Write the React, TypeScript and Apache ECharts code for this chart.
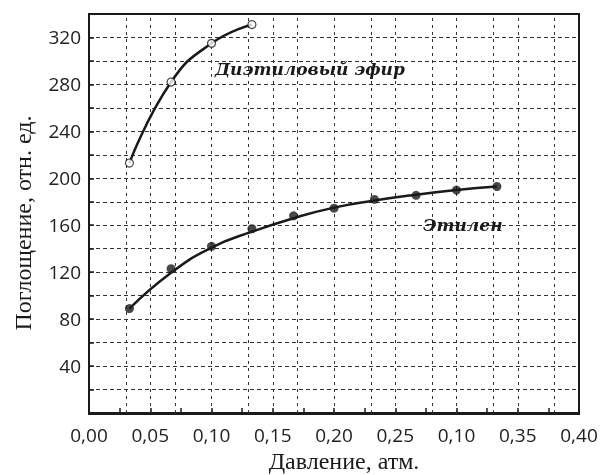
import React, { useEffect, useRef } from "react";
import * as echarts from "echarts";

// Data
const etherX = [0.033, 0.067, 0.1, 0.133];
const etherY = [213, 282, 315, 331];
const ethyleneX = [0.033, 0.067, 0.1, 0.133, 0.167, 0.2, 0.233, 0.267, 0.3, 0.333];
const ethyleneY = [89, 123, 142, 157, 168, 174.5, 182, 185.5, 190, 193];
const ethyleneFitY = [89, 119.5, 141, 154.5, 166, 175, 181, 186, 190, 193];
const xTickLabels = ["0,00", "0,05", "0,10", "0,15", "0,20", "0,25", "0,10", "0,35", "0,40"];
const xGridValues = [0.025, 0.05, 0.075, 0.1, 0.125, 0.15, 0.175, 0.2, 0.225, 0.25, 0.275, 0.3, 0.325, 0.35, 0.375];
const yTickLabels = ["40", "80", "120", "160", "200", "240", "280", "320"];
const etherName = "Диэтиловый эфир";
const ethyleneName = "Этилен";
const xTitle = "Давление, атм.";
const yTitle = "Поглощение, отн. ед.";

const zip = (xs: number[], ys: number[]) => xs.map((x, i) => [x, ys[i]]);

export default function App() {
  const ref = useRef<HTMLDivElement>(null);
  useEffect(() => {
    if (!ref.current) return;
    const chart = echarts.init(ref.current, undefined, { renderer: "svg" });
    const ink = "#1a1a1a";
    const serif = "'DejaVu Serif', 'Liberation Serif', serif";
    const hDash = { color: "#333333", width: 1, type: [4, 3] };
    chart.setOption({
      animation: false,
      grid: { left: 89, right: 22, top: 14, bottom: 62 },
      xAxis: {
        type: "value",
        min: 0,
        max: 0.4,
        interval: 0.025,
        axisLine: { show: true, onZero: false, lineStyle: { color: ink, width: 2 } },
        axisTick: { show: true, inside: true, length: 5, lineStyle: { color: ink, width: 1.5 } },
        splitLine: { show: false },
        axisLabel: {
          margin: 12,
          fontFamily: "Open Sans",
          fontSize: 19,
          color: "#222",
          formatter: (v: number) => {
            const k = Math.round(v * 40);
            if (k % 2 !== 0) return "";
            return xTickLabels[k / 2] ?? "";
          },
        },
      },
      yAxis: {
        type: "value",
        min: 0,
        max: 340,
        interval: 20,
        axisLine: { show: true, onZero: false, lineStyle: { color: ink, width: 2 } },
        axisTick: { show: true, inside: true, length: 5, lineStyle: { color: ink, width: 1.5 } },
        splitLine: { show: true, lineStyle: hDash },
        axisLabel: {
          margin: 8,
          fontFamily: "Open Sans",
          fontSize: 19,
          color: "#222",
          formatter: (v: number) => {
            const s = String(Math.round(v));
            return yTickLabels.includes(s) ? s : "";
          },
        },
      },
      graphic: [
        {
          type: "rect",
          shape: { x: 89, y: 14, width: 490, height: 400 },
          style: { fill: "none", stroke: ink, lineWidth: 2 },
          silent: true,
          z: 5,
        },
        {
          type: "text",
          x: 215,
          y: 69,
          z: 10,
          style: {
            text: etherName,
            fontFamily: serif,
            fontSize: 17,
            fontWeight: "bold",
            fontStyle: "italic",
            fill: ink,
            verticalAlign: "middle",
            align: "left",
          },
        },
        {
          type: "text",
          x: 423,
          y: 225,
          z: 10,
          style: {
            text: ethyleneName,
            fontFamily: serif,
            fontSize: 17,
            fontWeight: "bold",
            fontStyle: "italic",
            fill: ink,
            verticalAlign: "middle",
            align: "left",
          },
        },
        {
          type: "text",
          x: 344,
          y: 461,
          style: {
            text: xTitle,
            fontFamily: "Liberation Serif",
            fontSize: 24,
            fill: ink,
            align: "center",
            verticalAlign: "middle",
          },
        },
        {
          type: "text",
          x: 23,
          y: 223,
          rotation: Math.PI / 2,
          style: {
            text: yTitle,
            fontFamily: "Liberation Serif",
            fontSize: 24,
            fill: ink,
            align: "center",
            verticalAlign: "middle",
          },
        },
      ],
      series: [
        {
          type: "line",
          data: zip(etherX, etherY),
          smooth: 0.5,
          symbol: "none",
          lineStyle: { color: ink, width: 2.5 },
          z: 3,
        },
        {
          type: "line",
          data: zip(ethyleneX, ethyleneFitY),
          smooth: 0.5,
          symbol: "none",
          lineStyle: { color: ink, width: 2.5 },
          z: 3,
          markLine: {
            silent: true,
            symbol: ["none", "none"],
            label: { show: false },
            lineStyle: { color: "#333333", width: 1, type: [3, 4] },
            z: 1,
            data: xGridValues.map((v) => ({ xAxis: v })),
          },
        },
        {
          type: "scatter",
          data: zip(etherX, etherY),
          symbol: "circle",
          symbolSize: 8,
          itemStyle: { color: "#ffffff", borderColor: ink, borderWidth: 1.2 },
          z: 4,
        },
        {
          type: "scatter",
          data: zip(ethyleneX, ethyleneY),
          symbol: "circle",
          symbolSize: 9,
          itemStyle: { color: ink },
          z: 4,
        },
      ],
    });
    return () => chart.dispose();
  }, []);
  return (
    <div
      ref={ref}
      style={{ position: "fixed", left: 0, top: 0, width: 601, height: 475 }}
    />
  );
}
